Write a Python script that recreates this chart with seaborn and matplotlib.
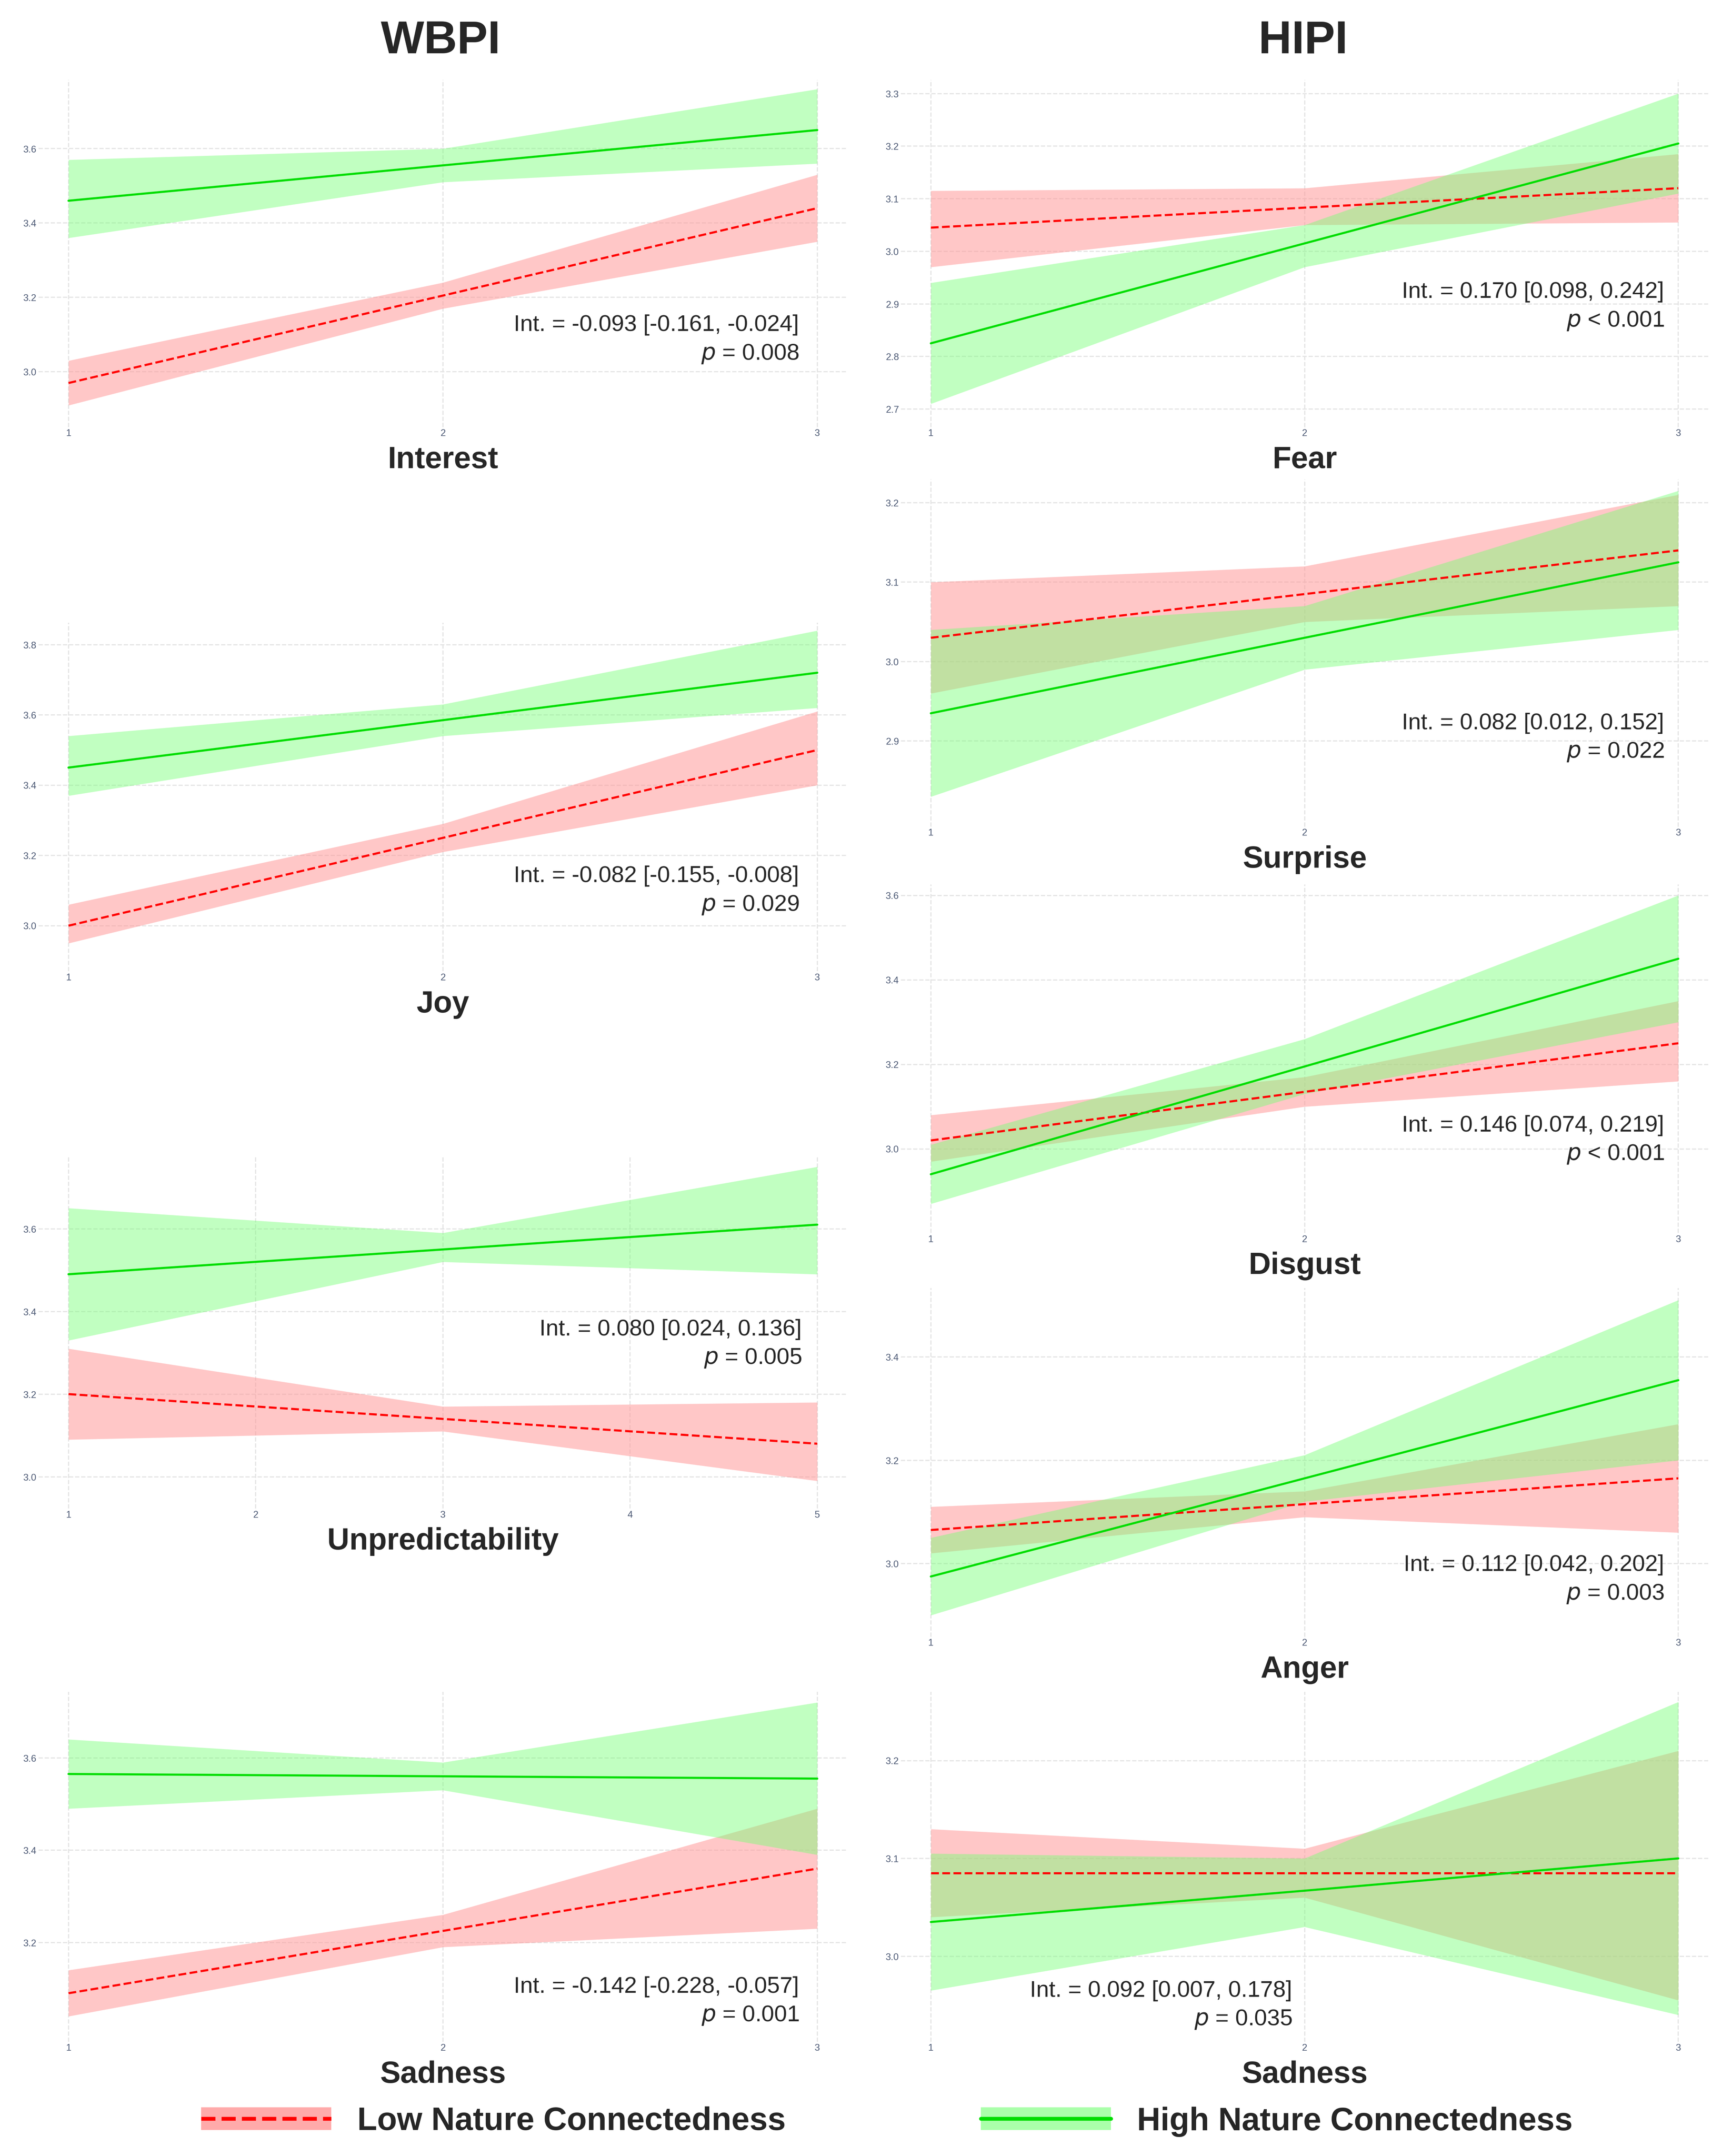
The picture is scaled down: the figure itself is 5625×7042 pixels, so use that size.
import numpy as np
import pandas as pd
import matplotlib.pyplot as plt
import seaborn as sns
from matplotlib.lines import Line2D
from matplotlib.patches import Patch

sns.set_theme(style="whitegrid")
plt.rcParams['font.family'] = ['Liberation Sans', 'DejaVu Sans']

# values: x points, line (low/high), band lower/upper
x3 = [1, 2, 3]
x5 = [1, 3, 5]

interest_low = [2.97, 3.205, 3.44]
interest_low_lo = [2.91, 3.17, 3.35]
interest_low_hi = [3.03, 3.24, 3.53]
interest_high = [3.46, 3.555, 3.65]
interest_high_lo = [3.36, 3.51, 3.56]
interest_high_hi = [3.57, 3.60, 3.76]

joy_low = [3.00, 3.25, 3.50]
joy_low_lo = [2.95, 3.21, 3.40]
joy_low_hi = [3.06, 3.29, 3.61]
joy_high = [3.45, 3.585, 3.72]
joy_high_lo = [3.37, 3.54, 3.62]
joy_high_hi = [3.54, 3.63, 3.84]

unpred_low = [3.20, 3.14, 3.08]
unpred_low_lo = [3.09, 3.11, 2.99]
unpred_low_hi = [3.31, 3.17, 3.18]
unpred_high = [3.49, 3.55, 3.61]
unpred_high_lo = [3.33, 3.52, 3.49]
unpred_high_hi = [3.65, 3.59, 3.75]

sadw_low = [3.09, 3.225, 3.36]
sadw_low_lo = [3.04, 3.19, 3.23]
sadw_low_hi = [3.14, 3.26, 3.49]
sadw_high = [3.565, 3.56, 3.555]
sadw_high_lo = [3.49, 3.53, 3.39]
sadw_high_hi = [3.64, 3.59, 3.72]

fear_low = [3.045, 3.083, 3.12]
fear_low_lo = [2.97, 3.05, 3.055]
fear_low_hi = [3.115, 3.12, 3.185]
fear_high = [2.825, 3.015, 3.205]
fear_high_lo = [2.71, 2.97, 3.11]
fear_high_hi = [2.94, 3.05, 3.30]

surp_low = [3.03, 3.085, 3.14]
surp_low_lo = [2.96, 3.05, 3.07]
surp_low_hi = [3.10, 3.12, 3.21]
surp_high = [2.935, 3.03, 3.125]
surp_high_lo = [2.83, 2.99, 3.04]
surp_high_hi = [3.04, 3.07, 3.215]

disg_low = [3.02, 3.135, 3.25]
disg_low_lo = [2.97, 3.10, 3.16]
disg_low_hi = [3.08, 3.17, 3.35]
disg_high = [2.94, 3.195, 3.45]
disg_high_lo = [2.87, 3.13, 3.30]
disg_high_hi = [3.01, 3.26, 3.60]

ang_low = [3.065, 3.115, 3.165]
ang_low_lo = [3.02, 3.09, 3.06]
ang_low_hi = [3.11, 3.14, 3.27]
ang_high = [2.975, 3.165, 3.355]
ang_high_lo = [2.90, 3.12, 3.20]
ang_high_hi = [3.05, 3.21, 3.51]

sadh_low = [3.085, 3.085, 3.085]
sadh_low_lo = [3.04, 3.06, 2.955]
sadh_low_hi = [3.13, 3.11, 3.21]
sadh_high = [3.035, 3.067, 3.10]
sadh_high_lo = [2.965, 3.03, 2.94]
sadh_high_hi = [3.105, 3.10, 3.26]

# (name, x, series, ticks, tick pixel pair, axes px top/bottom, column, annotation, annotation px)
panels = [
    ("Interest", x3, (interest_low, interest_low_lo, interest_low_hi, interest_high, interest_high_lo, interest_high_hi),
     [3.0, 3.2, 3.4, 3.6], ((3.6, 108), (3.0, 270)), (58, 310), 0,
     ("Int. = -0.093 [-0.161, -0.024]", " = 0.008"), (580, 236)),
    ("Joy", x3, (joy_low, joy_low_lo, joy_low_hi, joy_high, joy_high_lo, joy_high_hi),
     [3.0, 3.2, 3.4, 3.6, 3.8], ((3.8, 468), (3.0, 672)), (452, 705), 0,
     ("Int. = -0.082 [-0.155, -0.008]", " = 0.029"), (580, 636)),
    ("Unpredictability", x5, (unpred_low, unpred_low_lo, unpred_low_hi, unpred_high, unpred_high_lo, unpred_high_hi),
     [3.0, 3.2, 3.4, 3.6], ((3.6, 892), (3.0, 1072)), (840, 1095), 0,
     ("Int. = 0.080 [0.024, 0.136]", " = 0.005"), (582, 965)),
    ("Sadness", x3, (sadw_low, sadw_low_lo, sadw_low_hi, sadw_high, sadw_high_lo, sadw_high_hi),
     [3.2, 3.4, 3.6], ((3.6, 1276), (3.2, 1410)), (1228, 1482), 0,
     ("Int. = -0.142 [-0.228, -0.057]", " = 0.001"), (580, 1442)),
    ("Fear", x3, (fear_low, fear_low_lo, fear_low_hi, fear_high, fear_high_lo, fear_high_hi),
     [2.7, 2.8, 2.9, 3.0, 3.1, 3.2, 3.3], ((3.3, 68), (2.7, 297)), (58, 310), 1,
     ("Int. = 0.170 [0.098, 0.242]", " < 0.001"), (1208, 212)),
    ("Surprise", x3, (surp_low, surp_low_lo, surp_low_hi, surp_high, surp_high_lo, surp_high_hi),
     [2.9, 3.0, 3.1, 3.2], ((3.2, 365), (2.9, 538)), (348, 600), 1,
     ("Int. = 0.082 [0.012, 0.152]", " = 0.022"), (1208, 525)),
    ("Disgust", x3, (disg_low, disg_low_lo, disg_low_hi, disg_high, disg_high_lo, disg_high_hi),
     [3.0, 3.2, 3.4, 3.6], ((3.6, 650), (3.0, 834)), (642, 895), 1,
     ("Int. = 0.146 [0.074, 0.219]", " < 0.001"), (1208, 817)),
    ("Anger", x3, (ang_low, ang_low_lo, ang_low_hi, ang_high, ang_high_lo, ang_high_hi),
     [3.0, 3.2, 3.4], ((3.4, 985), (3.0, 1135)), (935, 1188), 1,
     ("Int. = 0.112 [0.042, 0.202]", " = 0.003"), (1208, 1136)),
    ("Sadness", x3, (sadh_low, sadh_low_lo, sadh_low_hi, sadh_high, sadh_high_lo, sadh_high_hi),
     [3.0, 3.1, 3.2], ((3.2, 1278), (3.0, 1420)), (1228, 1482), 1,
     ("Int. = 0.092 [0.007, 0.178]", " = 0.035"), (938, 1445)),
]

W, H = 1250, 1565
DPI = 450
fig = plt.figure(figsize=(12.5, 15.65), dpi=DPI)
fig.patch.set_facecolor("white")

RED, GREEN = "#ff0000", "#00dd00"

for name, xs, (lo, lo_l, lo_h, hi, hi_l, hi_h), ticks, ((v1, p1), (v2, p2)), (top, bot), col, ann, (ax_px, ay_px) in panels:
    left_px, right_px = (28, 615) if col == 0 else (654, 1240)
    ax = fig.add_axes([left_px / W, 1 - bot / H, (right_px - left_px) / W, (bot - top) / H])
    span = xs[-1] - xs[0]
    ax.set_xlim(xs[0] - 0.04 * span, xs[-1] + 0.04 * span)
    k = (v1 - v2) / (p2 - p1)
    ax.set_ylim(v2 - (bot - p2) * k, v1 + (p1 - top) * k)

    ax.fill_between(xs, lo_l, lo_h, color="#ff9999", alpha=0.55, lw=0)
    ax.fill_between(xs, hi_l, hi_h, color="#77ff77", alpha=0.45, lw=0)
    sns.lineplot(x=xs, y=lo, ax=ax, color=RED, lw=1.1, ls="--")
    sns.lineplot(x=xs, y=hi, ax=ax, color=GREEN, lw=1.1)

    ax.set_yticks(ticks)
    ax.set_yticklabels([f"{t:.1f}" for t in ticks])
    ax.set_xticks(list(range(xs[0], xs[-1] + 1)))
    ax.tick_params(labelsize=5, colors="#4d5a75", pad=1, length=0)
    ax.set_xlabel("")
    ax.set_ylabel("")
    ax.grid(True, color="#e4e4e4", ls="--", lw=0.6)
    ax.set_facecolor("white")
    for s in ax.spines.values():
        s.set_visible(False)

    fig.text((left_px + right_px) / 2 / W, 1 - (bot + 24) / H, name, ha="center", va="center",
             fontsize=16, fontweight="bold")
    fig.text(ax_px / W, 1 - ay_px / H, ann[0], ha="right", va="center", fontsize=12)
    fig.text(ax_px / W, 1 - (ay_px + 21) / H, f"$p${ann[1]}", ha="right", va="center", fontsize=12)

fig.text(320 / W, 1 - 30 / H, "WBPI", ha="center", va="center", fontsize=24, fontweight="bold")
fig.text(946 / W, 1 - 30 / H, "HIPI", ha="center", va="center", fontsize=24, fontweight="bold")

legend_items = [
    ((Patch(facecolor="#ffaaaa", lw=0), Line2D([], [], color=RED, ls="--", lw=2)), "Low Nature Connectedness"),
    ((Patch(facecolor="#aaffaa", lw=0), Line2D([], [], color=GREEN, lw=2)), "High Nature Connectedness"),
]
fig.legend([h for h, _ in legend_items], [l for _, l in legend_items], loc="center",
           bbox_to_anchor=(0.515, 1 - 1540 / H), ncol=2, frameon=False, handlelength=4,
           columnspacing=6, prop={"size": 17, "weight": "bold"})

fig.savefig("out.png", dpi=DPI, facecolor="white")
